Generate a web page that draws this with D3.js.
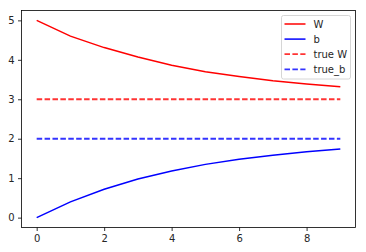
<!DOCTYPE html>
<html>
<head>
<meta charset="utf-8">
<style>
  body { margin: 0; background: #fff; }
  text { font-family: "DejaVu Sans", sans-serif; font-size: 10px; fill: #262626; }
</style>
</head>
<body>
<div id="chart"></div>
<script src="https://cdnjs.cloudflare.com/ajax/libs/d3/7.8.5/d3.min.js"></script>
<script>
var steps = [0, 1, 2, 3, 4, 5, 6, 7, 8, 9];
var wValues = [5.00, 4.60, 4.31, 4.07, 3.86, 3.70, 3.58, 3.47, 3.39, 3.32];
var bValues = [0.00, 0.40, 0.72, 0.98, 1.18, 1.35, 1.48, 1.58, 1.67, 1.74];
var trueW = 3;
var trueB = 2;
var xTicks = [0, 2, 4, 6, 8];
var yTicks = [0, 1, 2, 3, 4, 5];

var width = 366, height = 252;
// plot frame (note: "top" is reserved on window, so use other names)
var plotL = 21.5, plotR = 355.5, plotT = 10.5, plotB = 227.5;

var svg = d3.select("#chart").append("svg")
    .attr("width", width)
    .attr("height", height);

var x = d3.scaleLinear().domain([-0.45, 9.45]).range([plotL, plotR]);
var y = d3.scaleLinear().domain([-0.25, 5.25]).range([plotB, plotT]);

var line = d3.line()
    .x(function(d) { return x(d[0]); })
    .y(function(d) { return y(d[1]); });

var series = [
  {name: "W", color: "#ff0000", dash: null, pts: steps.map(function(s, i) { return [s, wValues[i]]; })},
  {name: "b", color: "#0000ff", dash: null, pts: steps.map(function(s, i) { return [s, bValues[i]]; })},
  {name: "true W", color: "#ff0000", dash: "5.5,2.4", pts: steps.map(function(s) { return [s, trueW]; })},
  {name: "true_b", color: "#0000ff", dash: "5.5,2.4", pts: steps.map(function(s) { return [s, trueB]; })}
];

svg.selectAll("path.series")
  .data(series)
  .enter().append("path")
    .attr("class", "series")
    .attr("d", function(d) { return line(d.pts); })
    .attr("fill", "none")
    .attr("stroke", function(d) { return d.color; })
    .attr("stroke-opacity", function(d) { return d.dash ? 0.8 : 1; })
    .attr("stroke-width", function(d) { return d.dash ? 1.8 : 1.5; })
    .attr("stroke-dasharray", function(d) { return d.dash; });

// axes
var xAxis = d3.axisBottom(x).tickValues(xTicks).tickFormat(d3.format("d")).tickSize(3.5).tickPadding(3.5);
var yAxis = d3.axisLeft(y).tickValues(yTicks).tickFormat(d3.format("d")).tickSize(3.5).tickPadding(3.5);

var gx = svg.append("g").attr("transform", "translate(0," + plotB + ")").call(xAxis);
var gy = svg.append("g").attr("transform", "translate(" + plotL + ",0)").call(yAxis);
[gx, gy].forEach(function(g) {
  g.attr("font-family", null).attr("font-size", null);
  g.select(".domain").remove();
  g.selectAll("line").attr("stroke", "#000").attr("stroke-width", 0.8);
  g.selectAll("text").attr("fill", "#262626");
});

svg.append("rect")
    .attr("x", plotL).attr("y", plotT)
    .attr("width", plotR - plotL).attr("height", plotB - plotT)
    .attr("fill", "none")
    .attr("stroke", "#000")
    .attr("stroke-width", 0.8);

// legend
var legend = svg.append("g").attr("transform", "translate(281.5,15.5)");
legend.append("rect")
    .attr("width", 69).attr("height", 63.5)
    .attr("rx", 2).attr("ry", 2)
    .attr("fill", "#fff").attr("fill-opacity", 0.8)
    .attr("stroke", "#cccccc").attr("stroke-width", 0.8);

var item = legend.selectAll("g.item")
  .data(series)
  .enter().append("g")
    .attr("class", "item")
    .attr("transform", function(d, i) { return "translate(0," + (8.5 + i * 15.1) + ")"; });

item.append("line")
    .attr("x1", 3).attr("x2", 24)
    .attr("stroke", function(d) { return d.color; })
    .attr("stroke-opacity", function(d) { return d.dash ? 0.8 : 1; })
    .attr("stroke-width", function(d) { return d.dash ? 1.8 : 1.5; })
    .attr("stroke-dasharray", function(d) { return d.dash; });

item.append("text")
    .attr("x", 32)
    .attr("dy", "0.35em")
    .text(function(d) { return d.name; });
</script>
</body>
</html>
